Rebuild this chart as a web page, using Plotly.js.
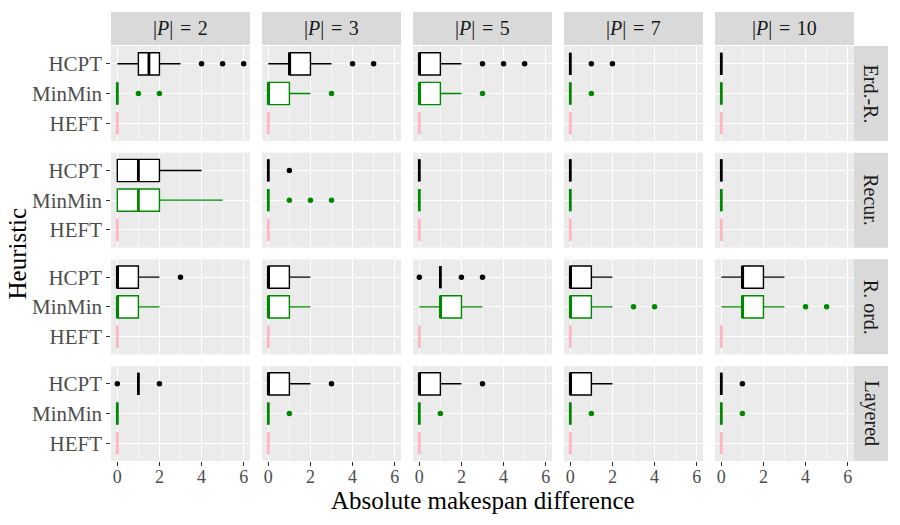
<!DOCTYPE html>
<html>
<head>
<meta charset="utf-8">
<script src="https://cdn.plot.ly/plotly-3.0.1.min.js"></script>
<style>
  html, body { margin: 0; padding: 0; background: #ffffff; }
  #chart { width: 900px; height: 525px; }
</style>
</head>
<body>
<div id="chart"></div>
<script>
// Facet columns (number of processors) and facet rows (graph families)
const sizes = [2, 3, 5, 7, 10];
const graphTypes = ['Erd.-R.', 'Recur.', 'R. ord.', 'Layered'];
const heuristics = ['HCPT', 'MinMin', 'HEFT'];
const xTicks = [0, 2, 4, 6];

// Box statistics: [lower whisker, q1, median, q3, upper whisker]
// outer index = graph family (row), inner index = |P| (column)
const hcptStats = [
  [[0, 1, 1.5, 2, 3], [0, 1, 1, 2, 3], [0, 0, 0, 1, 2], [0, 0, 0, 0, 0], [0, 0, 0, 0, 0]],
  [[0, 0, 1, 2, 4],   [0, 0, 0, 0, 0], [0, 0, 0, 0, 0], [0, 0, 0, 0, 0], [0, 0, 0, 0, 0]],
  [[0, 0, 0, 1, 2],   [0, 0, 0, 1, 2], [1, 1, 1, 1, 1], [0, 0, 0, 1, 2], [0, 1, 1, 2, 3]],
  [[1, 1, 1, 1, 1],   [0, 0, 0, 1, 2], [0, 0, 0, 1, 2], [0, 0, 0, 1, 2], [0, 0, 0, 0, 0]]
];
const hcptOutliers = [
  [[4, 5, 6], [4, 5], [3, 4, 5], [1, 2], []],
  [[], [1], [], [], []],
  [[3], [], [0, 2, 3], [], []],
  [[0, 2], [3], [3], [], [1]]
];

const minminStats = [
  [[0, 0, 0, 0, 0], [0, 0, 0, 1, 2], [0, 0, 0, 1, 2], [0, 0, 0, 0, 0], [0, 0, 0, 0, 0]],
  [[0, 0, 1, 2, 5], [0, 0, 0, 0, 0], [0, 0, 0, 0, 0], [0, 0, 0, 0, 0], [0, 0, 0, 0, 0]],
  [[0, 0, 0, 1, 2], [0, 0, 0, 1, 2], [0, 1, 1, 2, 3], [0, 0, 0, 1, 2], [0, 1, 1, 2, 3]],
  [[0, 0, 0, 0, 0], [0, 0, 0, 0, 0], [0, 0, 0, 0, 0], [0, 0, 0, 0, 0], [0, 0, 0, 0, 0]]
];
const minminOutliers = [
  [[1, 2], [3], [3], [1], []],
  [[], [1, 2, 3], [], [], []],
  [[], [], [], [3, 4], [4, 5]],
  [[], [1], [1], [1], [1]]
];

const heftStats = [
  [[0, 0, 0, 0, 0], [0, 0, 0, 0, 0], [0, 0, 0, 0, 0], [0, 0, 0, 0, 0], [0, 0, 0, 0, 0]],
  [[0, 0, 0, 0, 0], [0, 0, 0, 0, 0], [0, 0, 0, 0, 0], [0, 0, 0, 0, 0], [0, 0, 0, 0, 0]],
  [[0, 0, 0, 0, 0], [0, 0, 0, 0, 0], [0, 0, 0, 0, 0], [0, 0, 0, 0, 0], [0, 0, 0, 0, 0]],
  [[0, 0, 0, 0, 0], [0, 0, 0, 0, 0], [0, 0, 0, 0, 0], [0, 0, 0, 0, 0], [0, 0, 0, 0, 0]]
];
const heftOutliers = [
  [[], [], [], [], []],
  [[], [], [], [], []],
  [[], [], [], [], []],
  [[], [], [], [], []]
];

const series = [
  { name: heuristics[0], stats: hcptStats, outliers: hcptOutliers, color: '#000000' },
  { name: heuristics[1], stats: minminStats, outliers: minminOutliers, color: '#008800' },
  { name: heuristics[2], stats: heftStats, outliers: heftOutliers, color: '#FFB6C1' }
];

// ---- page geometry (pixels) ----
const W = 900, H = 525;
const FONT = '"Liberation Serif", "DejaVu Serif", serif';
const panelW = 139, colStep = 151, colLeft0 = 111;
const panelH = 95, rowStep = 106.67, rowTop0 = 46;
const stripTop = 12, stripBottom = 45;
const rstripLeft = 854, rstripRight = 888;
const boxWidth = 0.75;

const fx = p => p / W;
const fy = p => 1 - p / H;

const traces = [];
const layout = {
  width: W, height: H,
  margin: { l: 0, r: 0, t: 0, b: 0 },
  paper_bgcolor: '#FFFFFF',
  plot_bgcolor: '#EBEBEB',
  showlegend: false,
  boxmode: 'overlay',
  font: { family: FONT, color: '#1A1A1A' },
  shapes: [],
  annotations: []
};

graphTypes.forEach((g, r) => {
  sizes.forEach((p, c) => {
    const k = r * sizes.length + c + 1;
    const sfx = k === 1 ? '' : String(k);
    const xr = 'x' + sfx, yr = 'y' + sfx;
    const left = colLeft0 + c * colStep;
    const top = rowTop0 + r * rowStep;

    layout['xaxis' + sfx] = {
      domain: [fx(left), fx(left + panelW)],
      anchor: yr,
      range: [-0.3, 6.3],
      tickvals: xTicks,
      ticktext: xTicks.map(String),
      showticklabels: r === graphTypes.length - 1,
      ticks: r === graphTypes.length - 1 ? 'outside' : '',
      ticklen: 3.7, tickwidth: 1.1, tickcolor: '#333333',
      ticklabelstandoff: -4,
      tickfont: { family: FONT, size: 18, color: '#4D4D4D' },
      showgrid: true, gridcolor: '#FFFFFF', gridwidth: 1.1,
      minor: { tickvals: [1, 3, 5], showgrid: true, gridcolor: '#FFFFFF', gridwidth: 0.55, ticks: '' },
      zeroline: false, showline: false, automargin: false, fixedrange: true
    };
    layout['yaxis' + sfx] = {
      domain: [fy(top + panelH), fy(top)],
      anchor: xr,
      range: [0.4, 3.6],
      tickvals: [3, 2, 1],
      ticktext: heuristics,
      showticklabels: c === 0,
      ticks: c === 0 ? 'outside' : '',
      ticklen: 3.7, tickwidth: 1.1, tickcolor: '#333333',
      tickfont: { family: FONT, size: 21, color: '#4D4D4D' },
      showgrid: true, gridcolor: '#FFFFFF', gridwidth: 1.1,
      zeroline: false, showline: false, automargin: false, fixedrange: true
    };

    series.forEach((s, h) => {
      const pos = heuristics.length - h;
      const st = s.stats[r][c];
      traces.push({
        type: 'box', orientation: 'h', xaxis: xr, yaxis: yr,
        y: [pos],
        lowerfence: [st[0]], q1: [st[1]], median: [st[2]], q3: [st[3]], upperfence: [st[4]],
        width: boxWidth, whiskerwidth: 0, boxpoints: false,
        fillcolor: '#FFFFFF', line: { color: s.color, width: 1.4 },
        hoverinfo: 'skip', name: s.name
      });
      // thicker median bar, as in ggplot's boxplot
      traces.push({
        type: 'scatter', mode: 'lines', xaxis: xr, yaxis: yr,
        x: [st[2], st[2]], y: [pos - boxWidth / 2, pos + boxWidth / 2],
        line: { color: s.color, width: 2.8 }, hoverinfo: 'skip', name: s.name
      });
      const outs = s.outliers[r][c];
      if (outs.length) {
        traces.push({
          type: 'scatter', mode: 'markers', xaxis: xr, yaxis: yr,
          x: outs, y: outs.map(() => pos),
          marker: { color: s.color, size: 5.5 }, hoverinfo: 'skip', name: s.name
        });
      }
    });

    // column strips (top row only)
    if (r === 0) {
      layout.shapes.push({
        type: 'rect', xref: 'paper', yref: 'paper', layer: 'below',
        x0: fx(left), x1: fx(left + panelW), y0: fy(stripBottom), y1: fy(stripTop),
        fillcolor: '#D9D9D9', line: { width: 0 }
      });
      layout.annotations.push({
        xref: 'paper', yref: 'paper', showarrow: false,
        x: fx(left + panelW / 2), y: fy((stripTop + stripBottom) / 2),
        xanchor: 'center', yanchor: 'middle',
        text: '|<i>P</i>|&#8196;=&#8196;' + p,
        font: { family: FONT, size: 20, color: '#1A1A1A' }
      });
    }
    // row strips (right column only)
    if (c === sizes.length - 1) {
      layout.shapes.push({
        type: 'rect', xref: 'paper', yref: 'paper', layer: 'below',
        x0: fx(rstripLeft), x1: fx(rstripRight), y0: fy(top + panelH), y1: fy(top),
        fillcolor: '#D9D9D9', line: { width: 0 }
      });
      layout.annotations.push({
        xref: 'paper', yref: 'paper', showarrow: false,
        x: fx((rstripLeft + rstripRight) / 2), y: fy(top + panelH / 2),
        xanchor: 'center', yanchor: 'middle', textangle: 90,
        text: g,
        font: { family: FONT, size: 20, color: '#1A1A1A' }
      });
    }
  });
});

// axis titles
const plotsLeft = colLeft0, plotsRight = colLeft0 + (sizes.length - 1) * colStep + panelW;
const plotsTop = rowTop0, plotsBottom = rowTop0 + (graphTypes.length - 1) * rowStep + panelH;
layout.annotations.push({
  xref: 'paper', yref: 'paper', showarrow: false,
  x: fx((plotsLeft + plotsRight) / 2), y: fy(500),
  xanchor: 'center', yanchor: 'middle',
  text: 'Absolute makespan difference',
  font: { family: FONT, size: 25, color: '#000000' }
});
layout.annotations.push({
  xref: 'paper', yref: 'paper', showarrow: false,
  x: fx(18), y: fy((plotsTop + plotsBottom) / 2),
  xanchor: 'center', yanchor: 'middle', textangle: -90,
  text: 'Heuristic',
  font: { family: FONT, size: 25, color: '#000000' }
});

Plotly.newPlot('chart', traces, layout, { staticPlot: true, displayModeBar: false });
</script>
</body>
</html>
